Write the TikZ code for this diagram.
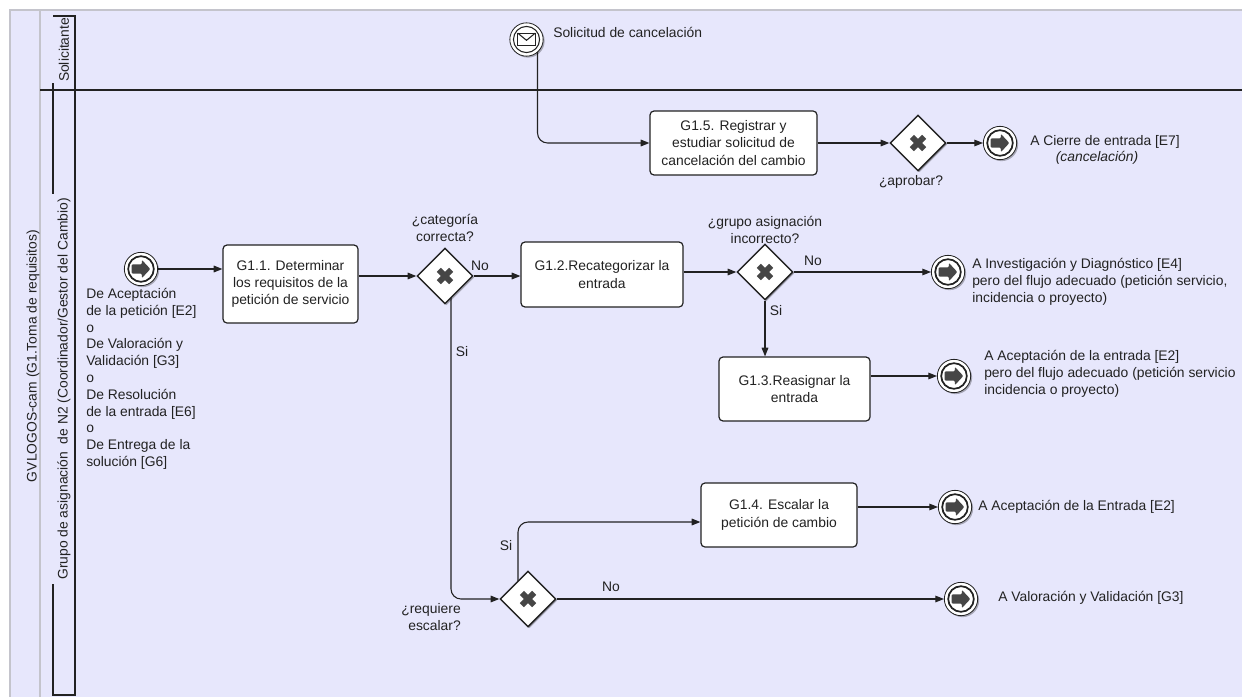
\documentclass[tikz,border=0pt]{standalone}
\usepackage{fontspec}
\setmainfont{Liberation Sans}
\usetikzlibrary{arrows.meta,shapes.geometric,shadows,calc}
\pgfdeclarelayer{pool}
\pgfdeclarelayer{wires}
\pgfsetlayers{pool,wires,main}
\definecolor{poolfill}{RGB}{231,231,252}
\definecolor{ink}{RGB}{34,34,34}
\definecolor{glyph}{RGB}{70,70,70}
\definecolor{rulegray}{RGB}{196,196,204}

\tikzset{
  lbl/.style={font=\fontsize{10.4}{12.6}\selectfont, text=ink, inner sep=0pt},
  task/.style={font=\fontsize{10.4}{13}\selectfont, text=ink, inner sep=0pt,
    draw=ink, line width=0.9pt, fill=white, rounded corners=3pt, align=center},
  softshadow/.style={drop shadow={shadow xshift=1.1pt, shadow yshift=-1.1pt, fill=black, opacity=0.28}},
  gate/.style={diamond, draw=ink, line width=1.1pt, fill=white,
    minimum width=42pt, minimum height=42pt, inner sep=0pt, softshadow,
    path picture={
      \draw[glyph, line width=4.3pt]
        ([shift={(-4.6pt,-4.6pt)}]path picture bounding box.center) --
        ([shift={(4.6pt,4.6pt)}]path picture bounding box.center);
      \draw[glyph, line width=4.3pt]
        ([shift={(-4.6pt,4.6pt)}]path picture bounding box.center) --
        ([shift={(4.6pt,-4.6pt)}]path picture bounding box.center);
    }},
  evt/.style={circle, draw=ink, line width=0.6pt, fill=white,
    minimum size=25pt, inner sep=0pt, softshadow},
  endevt/.style={evt, path picture={
      \draw[ink, line width=1.3pt] (path picture bounding box.center) circle (9.6pt);
      \fill[glyph, rounded corners=0.8pt]
        ([shift={(-7pt,3.5pt)}]path picture bounding box.center)
        -- ++(7.6pt,0) -- ++(0,3.4pt) -- ++(6.4pt,-6.9pt) -- ++(-6.4pt,-6.9pt)
        -- ++(0,3.4pt) -- ++(-7.6pt,0) -- cycle;
    }},
  msgevt/.style={evt, path picture={
      \draw[ink, line width=0.8pt] (path picture bounding box.center) circle (9.8pt);
      \draw[ink, line width=0.8pt, fill=white]
        ([shift={(-6.6pt,-4.8pt)}]path picture bounding box.center) rectangle
        ([shift={(6.6pt,4.8pt)}]path picture bounding box.center);
      \draw[ink, line width=0.8pt]
        ([shift={(-6.6pt,4.8pt)}]path picture bounding box.center) --
        ([shift={(0pt,-0.6pt)}]path picture bounding box.center) --
        ([shift={(6.6pt,4.8pt)}]path picture bounding box.center);
    }},
  flow/.style={draw=ink, line width=0.8pt, -{Triangle[length=6.5pt,width=5pt]}},
}

\begin{document}
\begin{tikzpicture}[x=0.75pt,y=-0.75pt]
\useasboundingbox (0,0) rectangle (1248,696);

% ---------- pool and lanes ----------
\begin{pgfonlayer}{pool}
  \fill[white] (0,0) rectangle (1248,696);
  \fill[poolfill] (10,10) rectangle (1242,700);
  \draw[rulegray, line width=1.6pt] (10,700) -- (10,10) -- (1242,10);
  \draw[rulegray, line width=1.4pt] (40,10) -- (40,700);
  \draw[ink, line width=1.5pt] (40,90) -- (1242,90);
  % lane title frames, left side interrupted by the titles
  \draw[ink, line width=0.8pt] (53,83) -- (53,90);
  \draw[ink, line width=0.8pt] (53,16) -- (75,16) -- (75,695) -- (53,695) -- (53,584);
  \draw[ink, line width=0.8pt] (53,90) -- (53,194);
\end{pgfonlayer}

\node[lbl, rotate=90] (pooltitle) at (33,356) {GVLOGOS-cam (G1.Toma de requisitos)};
\node[lbl, rotate=90] (lane1title) at (64,50) {Solicitante};
\node[lbl, rotate=90] (lane2title) at (64,389) {Grupo de asignación~ de N2 (Coordinador/Gestor del Cambio)};

% ---------- events, tasks, gateways ----------
\node[msgevt] (msg) at (526.5,39.5) {};
\node[lbl, anchor=west] (msglbl) at (553,32) {Solicitud de cancelación};

\node[task, minimum width=125.25pt, minimum height=48pt] (g15) at (733.5,143)
  {G1.5. Registrar y\\estudiar solicitud de\\cancelación del cambio};
\node[gate] (ga) at (918,143) {};
\node[lbl] (galbl) at (911,182) {¿aprobar?};
\node[endevt] (e1) at (1000,143) {};
\node[lbl, anchor=west] (e1lbl) at (1030,142) {A Cierre de entrada [E7]};
\node[lbl, font=\fontsize{10.4}{12.6}\selectfont\itshape] (e1lblb) at (1097,158) {(cancelación)};

\node[endevt] (s) at (141,269) {};
\node[lbl, align=left, anchor=north west] (slbl) at (86,288)
  {De Aceptación\\de la petición [E2]\\o\\De Valoración y\\Validación [G3]\\o\\De Resolución\\de la entrada [E6]\\o\\De Entrega de la\\solución [G6]};

\node[task, minimum width=101.25pt, minimum height=58.5pt] (g11) at (290.5,284)
  {G1.1. Determinar\\los requisitos de la\\petición de servicio};

\node[gate] (g1) at (445,276) {};
\node[lbl, align=center] (g1lbl) at (445,228) {¿categoría\\correcta?};
\node[lbl] (g1no) at (480,266) {No};
\node[lbl] (g1si) at (462,352) {Si};

\node[task, minimum width=121.5pt, minimum height=48.75pt] (g12) at (602,274.5)
  {G1.2.Recategorizar la\\entrada};

\node[gate] (g2) at (765,272) {};
\node[lbl, align=center] (g2lbl) at (765,230) {¿grupo asignación\\incorrecto?};
\node[lbl] (g2no) at (813,261) {No};
\node[lbl] (g2si) at (776,311) {Si};

\node[endevt] (e2) at (948,272) {};
\node[lbl, align=left, anchor=north west] (e2lbl) at (972,258)
  {A Investigación y Diagnóstico [E4]\\pero del flujo adecuado (petición servicio,\\incidencia o proyecto)};

\node[task, minimum width=113.25pt, minimum height=48pt] (g13) at (794.5,389)
  {G1.3.Reasignar la\\entrada};
\node[endevt] (e3) at (954,376) {};
\node[lbl, align=left, anchor=north west] (e3lbl) at (984,350)
  {A Aceptación de la entrada [E2]\\pero del flujo adecuado (petición servicio\\incidencia o proyecto)};

\node[task, minimum width=117pt, minimum height=48pt] (g14) at (779,515)
  {G1.4. Escalar la\\petición de cambio};
\node[endevt] (e4) at (955,507) {};
\node[lbl, anchor=west] (e4lbl) at (978,507) {A Aceptación de la Entrada [E2]};

\node[gate] (g3) at (528,599) {};
\node[lbl, align=right, anchor=east] (g3lbl) at (461,617) {¿requiere\\escalar?};
\node[lbl] (g3si) at (506,546) {Si};
\node[lbl] (g3no) at (611,587) {No};
\node[endevt] (e5) at (961,599) {};
\node[lbl, anchor=west] (e5lbl) at (998,598) {A Valoración y Validación [G3]};

% ---------- sequence flows ----------
\begin{pgfonlayer}{wires}
  \draw[flow, rounded corners=7.5pt] ([xshift=8.25pt]msg.center) |- (g15.west);
  \draw[flow] (g15.east |- ga.west) -- (ga.west);
  \draw[flow] (ga.east) -- (e1.west);
  \draw[flow] (s.east) -- (s -| g11.west);
  \draw[flow] (g11.east |- g1.west) -- (g1.west);
  \draw[flow] (g1.east) -- (g1 -| g12.west);
  \draw[flow] (g12.east |- g2.west) -- (g2.west);
  \draw[flow] (g2.east) -- (e2.west);
  \draw[flow] (g2.south) -- (g2.south |- g13.north);
  \draw[flow] (g13.east |- e3) -- (e3.west);
  \draw[flow, rounded corners=7.5pt] ([xshift=4.5pt]g1.center) |- (g3.west);
  \draw[flow, rounded corners=7.5pt] ([xshift=-7.5pt]g3.center) |- ([yshift=-5.25pt]g14.west);
  \draw[flow] (g14.east |- e4) -- (e4.west);
  \draw[flow] (g3.east) -- (e5.west);
\end{pgfonlayer}
\end{tikzpicture}
\end{document}
